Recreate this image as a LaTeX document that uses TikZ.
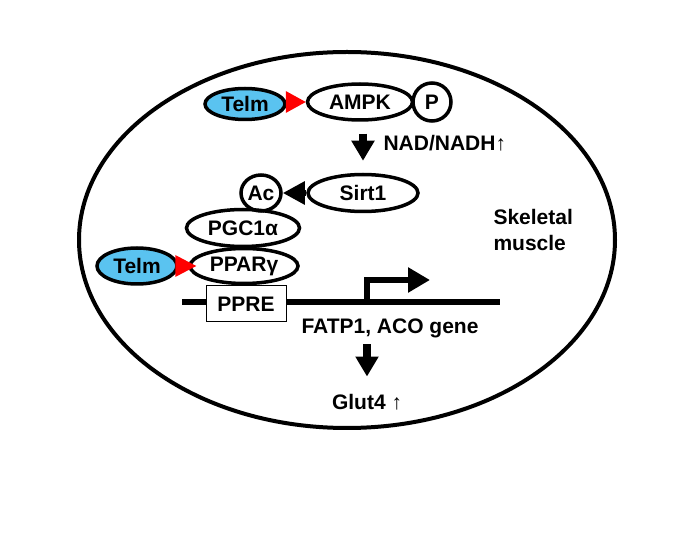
\documentclass[tikz,border=0pt]{standalone}
\usepackage{fontspec}
\setmainfont{Liberation Sans}
\usetikzlibrary{shapes.geometric, arrows.meta, positioning, calc}
\definecolor{telmblue}{RGB}{90,195,240}

\begin{document}
\begin{tikzpicture}[
    x=1pt, y=-1pt,
    font=\fontsize{21}{25}\selectfont\bfseries,
    prot/.style={ellipse, draw, line width=3.5pt, inner sep=0pt},
    telm/.style={prot, fill=telmblue, minimum width=80pt, minimum height=31pt},
    site/.style={prot, minimum width=40pt, minimum height=36pt},
    fat/.style={line width=8pt, -{Triangle[width=22pt,length=20pt]}},
    dna/.style={line width=6pt}
]
    \useasboundingbox (0,0) rectangle (697,537);
    \node[ellipse, draw, line width=4pt, minimum width=536pt, minimum height=376pt] (cell) at (347,240) {};

    % AMPK branch
    \node[telm] (telm1) at (245,104) {Telm};
    \node[prot, minimum width=105pt, minimum height=36pt] (ampk) at (360,102) {AMPK};
    \node[site, minimum width=38pt, minimum height=38pt] (p) at (432,102) {P};
    \fill[red] (ampk.west) -- ++(-20,-11) -- ++(0,22) -- cycle;

    \node[prot, minimum width=110pt, minimum height=37pt] (sirt1) at (363,193) {Sirt1};
    \draw[fat, shorten <=12pt, shorten >=12pt] (ampk.south -| sirt1.north) -- (sirt1.north);
    \node[anchor=west] (nad) at (380,143) {NAD/NADH↑};

    \node[site] (ac) at (261,193) {Ac};
    \draw[line width=6pt, -{Triangle[width=22pt,length=22pt]}] (sirt1) -- (ac);

    % nuclear receptor on the promoter
    \node[prot, minimum width=113pt, minimum height=37pt] (pgc) at (243,228) {PGC1α};
    \node[prot, minimum width=108pt, minimum height=35pt] (ppar) at (244,266) {PPARγ};
    \node[telm, minimum height=36pt] (telm2) at (137,266) {Telm};
    \fill[red] ($(ppar.west)+(8,0)$) -- ++(-21,-11) -- ++(0,22) -- cycle;

    \coordinate (dnaL) at (182,302);
    \coordinate (dnaR) at (500,302);
    \draw[dna] (dnaL) -- (dnaR);
    \node[draw, fill=white, line width=1pt, minimum width=80pt, minimum height=36pt] (ppre) at (246,304) {PPRE};

    \coordinate (tss) at (367,302);
    \coordinate (tssend) at (430,280);
    \draw[line width=6pt, miter limit=10, -{Triangle[width=24pt,length=22pt]}] (tss) |- (tssend);

    \node (gene) at (390,328) {FATP1, ACO gene};
    \node (glut) at (367,402) {Glut4 {\mdseries ↑}};
    \draw[fat, shorten <=3pt, shorten >=14pt] (gene.south -| glut.north) -- (glut.north);

    \node[anchor=west, align=left, font=\fontsize{21}{26}\selectfont\bfseries] (muscle) at (490,230) {Skeletal\\muscle};
\end{tikzpicture}
\end{document}
